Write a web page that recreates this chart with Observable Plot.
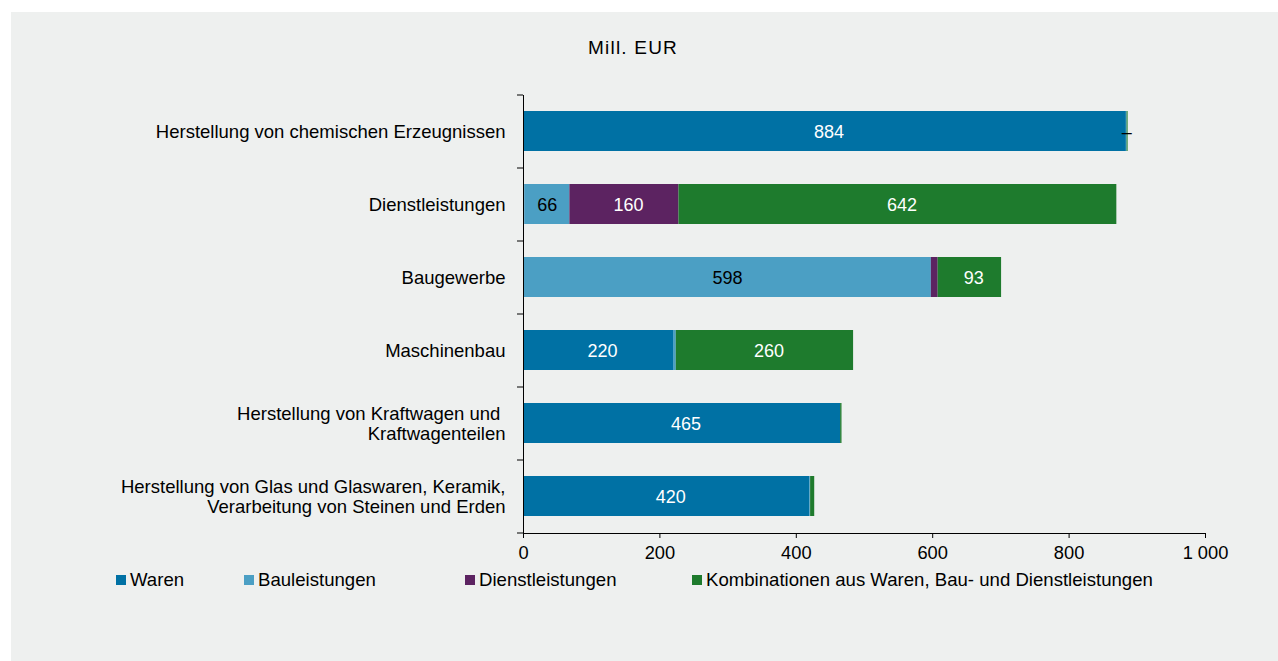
<!DOCTYPE html>
<html>
<head>
<meta charset="utf-8">
<script src="https://cdn.jsdelivr.net/npm/d3@7"></script>
<script src="https://cdn.jsdelivr.net/npm/@observablehq/plot@0.6"></script>
<style>
  html, body { margin: 0; padding: 0; background: #ffffff; }
  #panel { position: absolute; left: 11px; top: 12px; width: 1267px; height: 649px; background: #eef0ef;
    font-family: "Liberation Sans", Arial, sans-serif; color: #000; }
  #title { position: absolute; left: 0; width: 1244px; top: 25px; text-align: center; font-size: 19px; letter-spacing: 1.2px; }
  #chart { position: absolute; left: 0; top: 0; }
  .leg { position: absolute; top: 557px; font-size: 18.6px; white-space: nowrap; line-height: 22px; }
  .leg i { display: inline-block; width: 10px; height: 10px; margin-right: 4px; vertical-align: 1px; }
</style>
</head>
<body>
<div id="panel">
  <div id="title">Mill. EUR</div>
  <div id="chart"></div>
  <div id="legend"></div>
</div>
<script>
const categories = [
  "Herstellung von chemischen Erzeugnissen",
  "Dienstleistungen",
  "Baugewerbe",
  "Maschinenbau",
  "Herstellung von Kraftwagen und Kraftwagenteilen",
  "Herstellung von Glas und Glaswaren, Keramik, Verarbeitung von Steinen und Erden"
];
const tickLabels = [
  "Herstellung von chemischen Erzeugnissen",
  "Dienstleistungen",
  "Baugewerbe",
  "Maschinenbau",
  "Herstellung von Kraftwagen und \nKraftwagenteilen",
  "Herstellung von Glas und Glaswaren, Keramik,\nVerarbeitung von Steinen und Erden"
];
const seriesNames = ["Waren", "Bauleistungen", "Dienstleistungen", "Kombinationen aus Waren, Bau- und Dienstleistungen"];
const seriesColors = ["#0071a4", "#4b9fc4", "#5c2361", "#1e7b2d"];
const waren  = [884, 2, 0, 220, 465, 420];
const bau    = [1, 66, 598, 4, 0, 1];
const dienst = [0, 160, 10, 0, 0, 0];
const komb   = [1.5, 642, 93, 260, 2, 6];
const warenLabels  = ["884", "", "", "220", "465", "420"];
const bauLabels    = ["–", "66", "598", "", "", ""];
const dienstLabels = ["", "160", "", "", "", ""];
const kombLabels   = ["", "642", "93", "260", "", ""];
const xTicks = [0, 200, 400, 600, 800, 1000];

const values = [waren, bau, dienst, komb];
const labels = [warenLabels, bauLabels, dienstLabels, kombLabels];
const data = [];
categories.forEach((c, i) => {
  seriesNames.forEach((s, j) => {
    data.push({cat: c, type: s, value: values[j][i], label: labels[j][i], dark: j === 1});
  });
});

const W = 1267, H = 551, mt = 83, mb = 30, ml = 512, mr = 73;
const step = (H - mt - mb) / categories.length;
const fmt = d3.formatLocale({decimal: ",", thousands: " ", grouping: [3], currency: ["", " €"]}).format(",");
const labelOf = new Map(categories.map((c, i) => [c, tickLabels[i]]));

const chart = Plot.plot({
  width: W, height: H,
  marginTop: mt, marginBottom: mb, marginLeft: ml, marginRight: mr,
  style: {background: "transparent", fontFamily: "'Liberation Sans', Arial, sans-serif", fontSize: "18px", color: "#000"},
  x: {domain: [0, 1000]},
  y: {domain: categories, paddingInner: 0.45, paddingOuter: 0.225},
  color: {domain: seriesNames, range: seriesColors},
  marks: [
    Plot.barX(data, Plot.stackX({x: "value", y: "cat", fill: "type"})),
    Plot.text(data, Plot.stackX({x: "value", y: "cat", text: d => d.dark ? "" : d.label, fill: "white", fontSize: 18, dx: 4, dy: 1})),
    Plot.text(data, Plot.stackX({x: "value", y: "cat", text: d => d.dark ? d.label : "", fill: "black", fontSize: 18, dy: 1})),
    Plot.frame({anchor: "left", stroke: "#000"}),
    Plot.frame({anchor: "bottom", stroke: "#000"}),
    Plot.axisX({ticks: xTicks, tickFormat: fmt, tickSize: 5, tickPadding: 7, fontSize: 18.3, label: null}),
    Plot.axisY({tickSize: 0, tickPadding: 18, tickFormat: d => labelOf.get(d), fontSize: 18.5, lineHeight: 1.08, label: null}),
    Plot.axisY({tickSize: 6, tickFormat: () => "", dy: -step / 2, label: null}),
    Plot.axisY({ticks: [categories[categories.length - 1]], tickSize: 6, tickFormat: () => "", dy: step / 2, label: null})
  ]
});
document.getElementById("chart").appendChild(chart);

const legendX = [105, 233, 454, 681];
const legend = document.getElementById("legend");
seriesNames.forEach((s, j) => {
  const el = document.createElement("div");
  el.className = "leg";
  el.style.left = legendX[j] + "px";
  el.innerHTML = `<i style="background:${seriesColors[j]}"></i>${s}`;
  legend.appendChild(el);
});
</script>
</body>
</html>
